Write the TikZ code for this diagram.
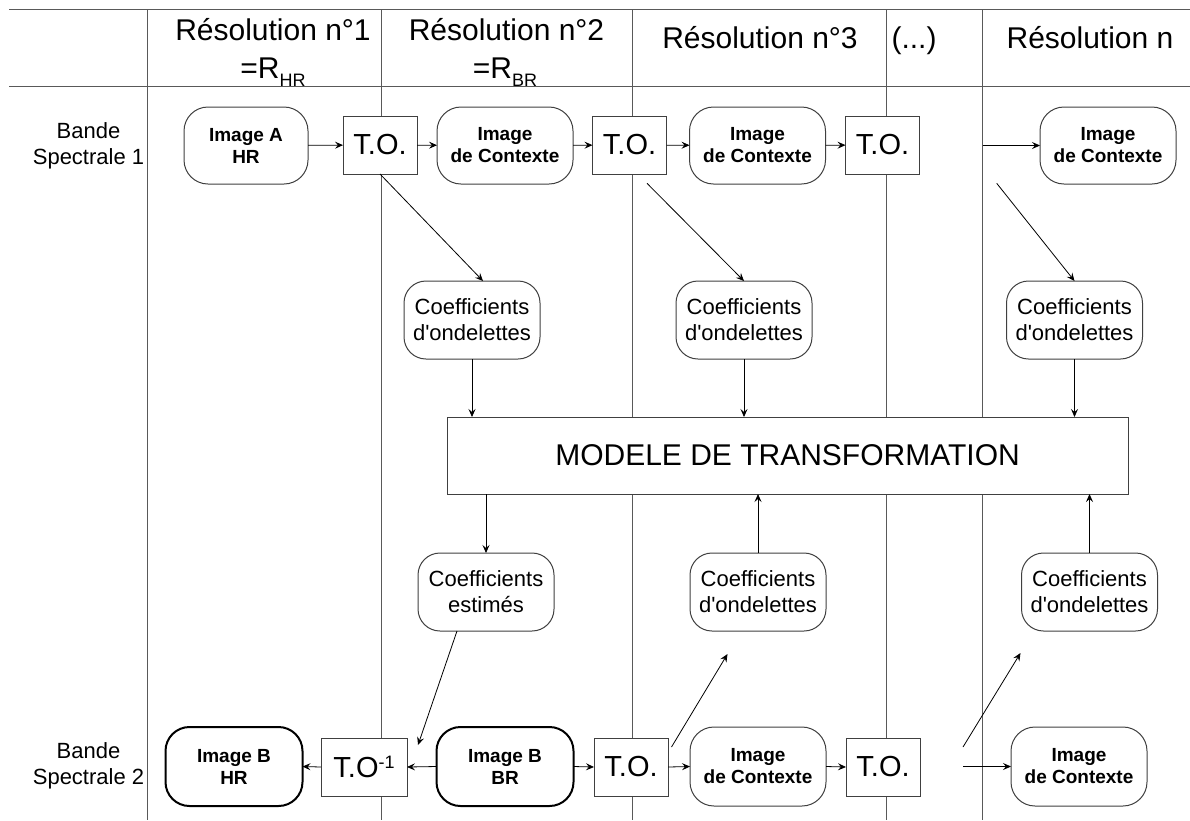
\documentclass[tikz,border=0pt]{standalone}
\usepackage{fontspec}
\setmainfont{Liberation Sans}
\usetikzlibrary{arrows.meta,calc}
\definecolor{rulecol}{gray}{0.35}
\definecolor{edgecol}{gray}{0.25}
\newcommand{\ondel}{Coefficients\\d\textquotesingle ondelettes}
\begin{document}
\begin{tikzpicture}[x=1pt,y=-1pt,
  every node/.style={inner sep=0pt, outer sep=0pt},
  gridline/.style={draw=rulecol, line width=1pt},
  imgbox/.style={draw=edgecol, line width=1pt, fill=white, rounded corners=24pt,
    align=center, minimum width=136pt, minimum height=77pt,
    font=\fontsize{19}{22}\selectfont\bfseries},
  keybox/.style={imgbox, draw=black, line width=2pt, minimum width=137pt, minimum height=79pt},
  tobox/.style={draw=edgecol, line width=1pt, fill=white, minimum width=74pt,
    minimum height=58pt, font=\fontsize{29}{30}\selectfont},
  coefbox/.style={draw=edgecol, line width=1pt, fill=white, rounded corners=22pt,
    align=center, minimum width=136pt, minimum height=78pt,
    font=\fontsize{22}{26}\selectfont},
  modelbox/.style={draw=edgecol, line width=1pt, fill=white, minimum width=681pt,
    minimum height=77pt, font=\fontsize{30}{36}\selectfont},
  head/.style={anchor=base, font=\fontsize{30}{36}\selectfont},
  band/.style={align=center, font=\fontsize{22}{26.5}\selectfont},
  flow/.style={-{Stealth[length=8pt,width=7pt,inset=3pt]}, line width=0.8pt},
]
\useasboundingbox (0,0) rectangle (1190,820);

% table rules
\draw[gridline] (9,9.3) -- (1190,9.3);
\draw[gridline] (9,86.7) -- (1190,86.7);
\foreach \x in {147,381,632.7,886,982.7}
  \draw[gridline] (\x,9.3) -- (\x,820);

% column headings
\node[head] (h1a) at (273,40) {Résolution n°1};
\node[head] (h1b) at (273,78) {=R\raisebox{-8pt}{\fontsize{18}{18}\selectfont HR}};
\node[head] (h2a) at (506.5,40) {Résolution n°2};
\node[head] (h2b) at (505,78) {=R\raisebox{-8pt}{\fontsize{18}{18}\selectfont BR}};
\node[head] (h3) at (760,48) {Résolution n°3};
\node[head] (h4) at (914,48) {(...)};
\node[head] (h5) at (1090,48) {Résolution n};

% row headings
\node[band] (b1) at (88.5,146) {Bande\\Spectrale 1};
\node[band] (b2) at (88.5,766) {Bande\\Spectrale 2};

% band 1
\node[imgbox, minimum width=124pt] (imgA) at (246,145.5) {Image A\\HR};
\node[tobox] (to1) at (380,145) {T.O.};
\node[imgbox] (ctx1) at (505,145.5) {Image\\de Contexte};
\node[tobox] (to2) at (629.5,145) {T.O.};
\node[imgbox] (ctx2) at (757.5,145.5) {Image\\de Contexte};
\node[tobox] (to3) at (882.5,145) {T.O.};
\node[imgbox] (ctx3) at (1108,145.5) {Image\\de Contexte};

% wavelet coefficients of band 1
\node[coefbox] (c1) at (472,320) {\ondel};
\node[coefbox] (c2) at (744,320) {\ondel};
\node[coefbox] (c3) at (1074.5,320) {\ondel};

% transformation model
\node[modelbox] (model) at (787.5,455.5) {MODELE DE TRANSFORMATION};

% estimated and band 2 coefficients
\node[coefbox] (est) at (486,592) {Coefficients\\estimés};
\node[coefbox] (c4) at (758,592) {\ondel};
\node[coefbox] (c5) at (1089.5,592) {\ondel};

% band 2
\node[keybox] (imgBHR) at (234,766.5) {Image B\\HR};
\node[tobox, minimum width=86pt] (toinv) at (364,767) {T.O\raisebox{9pt}{\fontsize{18}{18}\selectfont -1}};
\node[keybox] (imgBBR) at (505,766.5) {Image B\\BR};
\node[tobox] (to4) at (631,767) {T.O.};
\node[imgbox, minimum height=79pt] (ctx4) at (758,766.5) {Image\\de Contexte};
\node[tobox] (to5) at (883,767) {T.O.};
\node[imgbox, minimum height=79pt] (ctx5) at (1079,766.5) {Image\\de Contexte};

% loose ends
\coordinate (s1) at (982.7,145.5);
\coordinate (d2) at (647,183.3);
\coordinate (d3) at (996.7,183.3);
\coordinate (estEnd) at (418,745);
\coordinate (u1s) at (671.5,747);
\coordinate (u1e) at (727.5,654);
\coordinate (u2s) at (963,747);
\coordinate (u2e) at (1020.5,653);
\coordinate (s2) at (963,766.5);

% band 1 chain
\draw[flow] (imgA) -- (to1);
\draw[flow] (to1) -- (ctx1);
\draw[flow] (ctx1) -- (to2);
\draw[flow] (to2) -- (ctx2);
\draw[flow] (ctx2) -- (to3);
\draw[flow] (s1) -- (ctx3.west);

% decomposition into coefficients
\draw[flow] (to1.south) -- ($(c1.north)+(11,0)$);
\draw[flow] (d2) -- (c2.north);
\draw[flow] (d3) -- (c3.north);
\draw[flow] (c1.south) -- (c1.south |- model.north);
\draw[flow] (c2.south) -- (c2.south |- model.north);
\draw[flow] (c3.south) -- (c3.south |- model.north);
\draw[flow] (est.north |- model.south) -- (est.north);
\draw[flow] (c4.north) -- (c4.north |- model.south);
\draw[flow] (c5.north) -- (c5.north |- model.south);
\draw[flow] ($(est.south)+(-29,0)$) -- (estEnd);

% band 2 chain
\draw[flow] (toinv.west) -- (imgBHR.east);
\draw[flow] (imgBBR.west) -- (toinv.east);
\draw[flow] (imgBBR.east) -- (to4.west);
\draw[flow] (to4.east) -- (ctx4.west);
\draw[flow] (ctx4.east) -- (to5.west);
\draw[flow] (s2) -- (ctx5.west);
\draw[flow] (u1s) -- (u1e);
\draw[flow] (u2s) -- (u2e);
\end{tikzpicture}
\end{document}
